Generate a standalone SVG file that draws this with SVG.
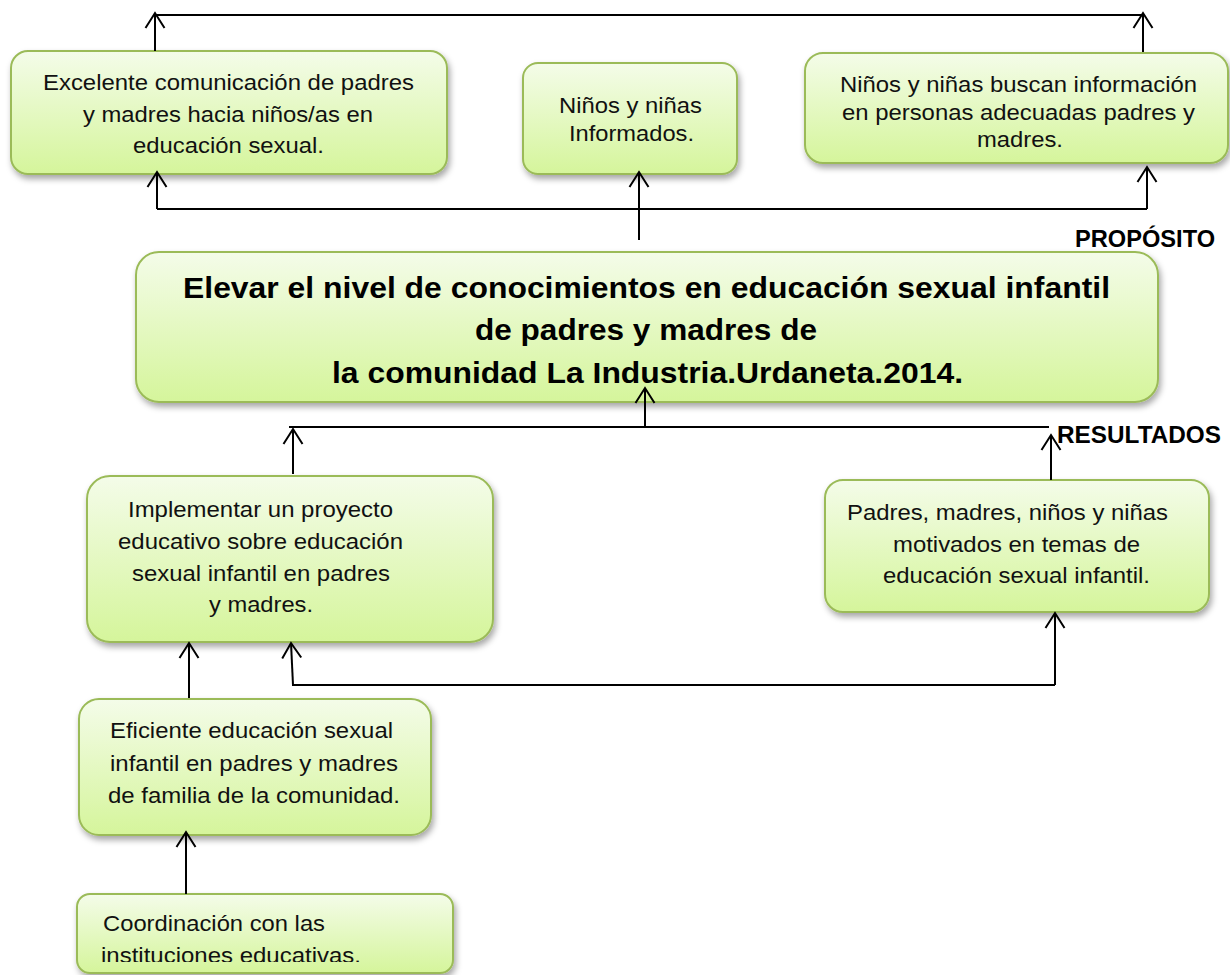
<svg xmlns="http://www.w3.org/2000/svg" width="1230" height="975" viewBox="0 0 1230 975">
<style>
  .box { fill: url(#g); stroke: #9bbb59; stroke-width: 2; filter: url(#sh); }
  .t { font-family: "Liberation Sans", Arial, sans-serif; font-size: 22px; fill: #111; }
  .tb { font-family: "Liberation Sans", Arial, sans-serif; font-weight: bold; fill: #000; }
  .c { fill: none; stroke: #000; stroke-width: 2; }
  .a { marker-end: url(#arr); }
</style>
<defs>
  <linearGradient id="g" x1="0" y1="0" x2="0" y2="1">
    <stop offset="0" stop-color="#f4fce9"/>
    <stop offset="1" stop-color="#d5f59b"/>
  </linearGradient>
  <filter id="sh" x="-10%" y="-10%" width="120%" height="130%">
    <feDropShadow dx="2" dy="4" stdDeviation="3" flood-color="#000" flood-opacity="0.35"/>
  </filter>
  <marker id="arr" markerUnits="userSpaceOnUse" markerWidth="40" markerHeight="40" viewBox="-20 -20 40 40" refX="0" refY="0" orient="auto" overflow="visible">
    <path d="M-15,-9.5 L0,0 L-15,9.5" fill="none" stroke="#000" stroke-width="2"/>
  </marker>
  <clipPath id="clip7"><rect x="70" y="890" width="400" height="72"/></clipPath>
</defs>
<rect width="1230" height="975" fill="#fff"/>

<g id="n1">
  <rect class="box" x="11" y="51" width="436" height="123" rx="17"/>
  <text class="t" x="43" y="90" textLength="371" lengthAdjust="spacingAndGlyphs">Excelente comunicación de padres</text>
  <text class="t" x="83" y="122" textLength="290" lengthAdjust="spacingAndGlyphs">y madres hacia niños/as en</text>
  <text class="t" x="133" y="153" textLength="191" lengthAdjust="spacingAndGlyphs">educación sexual.</text>
</g>

<g id="n2">
  <rect class="box" x="523" y="63" width="214" height="111" rx="15"/>
  <text class="t" x="559" y="113" textLength="143" lengthAdjust="spacingAndGlyphs">Niños y niñas</text>
  <text class="t" x="569" y="141" textLength="125" lengthAdjust="spacingAndGlyphs">Informados.</text>
</g>

<g id="n3">
  <rect class="box" x="805" y="53" width="423" height="110" rx="18"/>
  <text class="t" x="840" y="92" textLength="357" lengthAdjust="spacingAndGlyphs">Niños y niñas buscan información</text>
  <text class="t" x="842" y="120" textLength="353" lengthAdjust="spacingAndGlyphs">en personas adecuadas padres y</text>
  <text class="t" x="977" y="147" textLength="86" lengthAdjust="spacingAndGlyphs">madres.</text>
</g>

<g id="label-proposito">
  <text class="tb" x="1075" y="247" font-size="23" textLength="140" lengthAdjust="spacingAndGlyphs">PROPÓSITO</text>
</g>

<g id="main">
  <rect class="box" x="136" y="252" width="1022" height="150" rx="23"/>
  <text class="tb" x="183" y="298" font-size="29" textLength="927" lengthAdjust="spacingAndGlyphs">Elevar el nivel de conocimientos en educación sexual infantil</text>
  <text class="tb" x="475" y="340" font-size="29" textLength="342" lengthAdjust="spacingAndGlyphs">de padres y madres de</text>
  <text class="tb" x="332" y="383" font-size="29" textLength="631" lengthAdjust="spacingAndGlyphs">la comunidad La Industria.Urdaneta.2014.</text>
</g>

<g id="label-resultados">
  <text class="tb" x="1057" y="443" font-size="23" textLength="164" lengthAdjust="spacingAndGlyphs">RESULTADOS</text>
</g>

<g id="n4">
  <rect class="box" x="87" y="476" width="406" height="166" rx="23"/>
  <text class="t" x="128" y="517" font-size="23" textLength="265" lengthAdjust="spacingAndGlyphs">Implementar un proyecto</text>
  <text class="t" x="118" y="549" font-size="23" textLength="285" lengthAdjust="spacingAndGlyphs">educativo sobre educación</text>
  <text class="t" x="132" y="581" font-size="23" textLength="258" lengthAdjust="spacingAndGlyphs">sexual infantil en padres</text>
  <text class="t" x="209" y="612" font-size="23" textLength="104" lengthAdjust="spacingAndGlyphs">y madres.</text>
</g>

<g id="n5">
  <rect class="box" x="825" y="480" width="384" height="132" rx="18"/>
  <text class="t" x="847" y="520" textLength="321" lengthAdjust="spacingAndGlyphs">Padres, madres, niños y niñas</text>
  <text class="t" x="893" y="552" textLength="247" lengthAdjust="spacingAndGlyphs">motivados en temas de</text>
  <text class="t" x="883" y="583" textLength="267" lengthAdjust="spacingAndGlyphs">educación sexual infantil.</text>
</g>

<g id="n6">
  <rect class="box" x="79" y="699" width="352" height="136" rx="20"/>
  <text class="t" x="110" y="738" font-size="23" textLength="283" lengthAdjust="spacingAndGlyphs">Eficiente educación sexual</text>
  <text class="t" x="110" y="771" font-size="23" textLength="288" lengthAdjust="spacingAndGlyphs">infantil en padres y madres</text>
  <text class="t" x="108" y="803" font-size="23" textLength="292" lengthAdjust="spacingAndGlyphs">de familia de la comunidad.</text>
</g>

<g id="n7">
  <rect class="box" x="77" y="894" width="376" height="79" rx="13"/>
  <g clip-path="url(#clip7)">
    <text class="t" x="103" y="931" font-size="23" textLength="222" lengthAdjust="spacingAndGlyphs">Coordinación con las</text>
    <text class="t" x="101" y="963" font-size="23" textLength="260" lengthAdjust="spacingAndGlyphs">instituciones educativas.</text>
  </g>
</g>

<g id="connectors">
  <path class="c" d="M155,15 H1143"/>
  <path class="c a" d="M155,51 V13"/>
  <path class="c a" d="M1143,52 V13"/>
  <path class="c" d="M157,209 H1147"/>
  <path class="c a" d="M157,209 V172"/>
  <path class="c a" d="M1147,209 V167"/>
  <path class="c a" d="M639,240 V172"/>
  <path class="c" d="M289,427 H1049"/>
  <path class="c a" d="M645,427 V388"/>
  <path class="c a" d="M293,474 V429"/>
  <path class="c a" d="M1051,480 V435"/>
  <path class="c a" d="M189,698 V643"/>
  <path class="c" d="M292,685 H1055"/>
  <path class="c a" d="M293,685 L291,643"/>
  <path class="c a" d="M1055,685 V613"/>
  <path class="c a" d="M186,894 V832"/>
</g>
</svg>
